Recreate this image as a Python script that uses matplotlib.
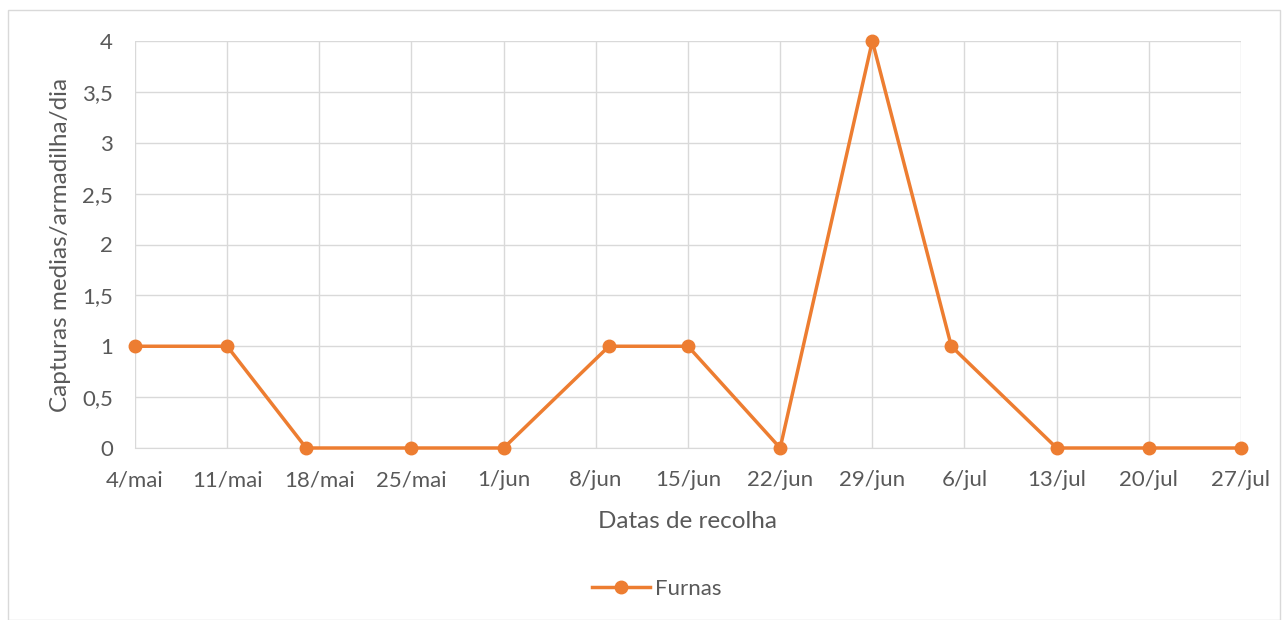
import matplotlib.pyplot as plt
import pandas as pd

plt.rcParams['font.family'] = ['Lato', 'DejaVu Sans']

datas = ['2020-05-04', '2020-05-11', '2020-05-17', '2020-05-25', '2020-06-01',
         '2020-06-09', '2020-06-15', '2020-06-22', '2020-06-29', '2020-07-05',
         '2020-07-13', '2020-07-20', '2020-07-27']
furnas = [1, 1, 0, 0, 0, 1, 1, 0, 4, 1, 0, 0, 0]
meses = {5: 'mai', 6: 'jun', 7: 'jul'}

x = pd.to_datetime(datas)
ticks = pd.date_range('2020-05-04', '2020-07-27', freq='7D')
tick_labels = [f'{d.day}/{meses[d.month]}' for d in ticks]

laranja = '#ED7D31'
cinza = '#595959'
grade = '#D9D9D9'

fig = plt.figure(figsize=(12.88, 6.2), dpi=100)
ax = fig.add_axes([135/1288, 1 - 448/620, (1241-135)/1288, (448-41)/620])

# moldura do grafico
fig.patches.append(plt.Rectangle((8/1288, 0.0), 1272/1288, 1 - 10/620, transform=fig.transFigure,
                                 fill=False, edgecolor=grade, linewidth=1))

ax.plot(x, furnas, color=laranja, linewidth=2.5, marker='o', markersize=9,
        label='Furnas', clip_on=False, zorder=3)

ax.set_xlim(ticks[0], ticks[-1])
ax.set_ylim(0, 4)
ax.set_xticks(ticks)
ax.set_xticklabels(tick_labels)
yt = [0, 0.5, 1, 1.5, 2, 2.5, 3, 3.5, 4]
ax.set_yticks(yt)
ax.set_yticklabels([f'{v:g}'.replace('.', ',') for v in yt])

ax.grid(True, color=grade, linewidth=1)
ax.set_axisbelow(True)
for s in ['top', 'right', 'left']:
    ax.spines[s].set_visible(False)
ax.spines['bottom'].set_color(grade)
ax.tick_params(axis='both', length=0, colors=cinza, labelsize=16)
ax.tick_params(axis='x', pad=16)
ax.tick_params(axis='y', pad=16)

ax.set_xlabel('Datas de recolha', color=cinza, fontsize=17.5, labelpad=15)
ax.set_ylabel('Capturas medias/armadilha/dia', color=cinza, fontsize=17.5, labelpad=8)

fig.legend(loc='center', bbox_to_anchor=(657/1288, 1 - 589/620), frameon=False,
           fontsize=16, labelcolor=cinza, handlelength=2.6, handletextpad=0.25)

fig.savefig('out.png', dpi=100)
